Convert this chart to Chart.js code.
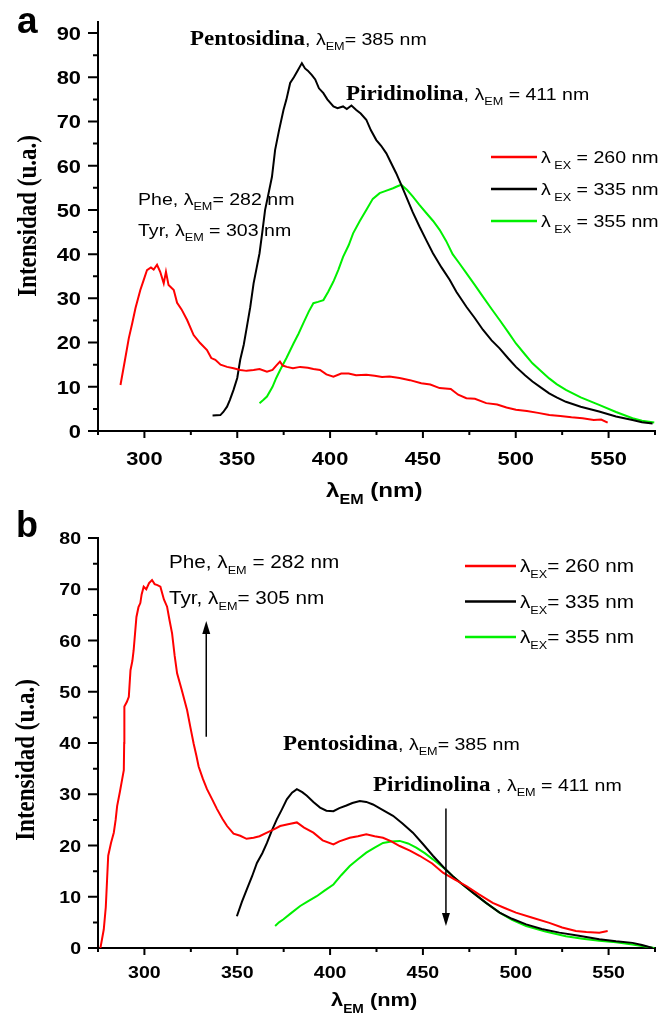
<!DOCTYPE html>
<html>
<head>
<meta charset="utf-8">
<script src="https://cdn.jsdelivr.net/npm/chart.js@4.4.1/dist/chart.umd.min.js"></script>
<style>
  body { margin: 0; background: #fff; }
  canvas { position: absolute; left: 0; }
  #chartA { top: 0; }
  #chartB { top: 510px; }
</style>
</head>
<body>
<canvas id="chartA" width="666" height="510"></canvas>
<canvas id="chartB" width="666" height="516"></canvas>
<script>
// ---- axes ----
const xMin = 275, xMax = 575;
const xTickLabels = [300, 350, 400, 450, 500, 550];
const xMinorTicks = [275, 325, 375, 425, 475, 525, 575];
const aYTicks = [0, 10, 20, 30, 40, 50, 60, 70, 80, 90];
const aYMinor = [5, 15, 25, 35, 45, 55, 65, 75, 85];
const bYTicks = [0, 10, 20, 30, 40, 50, 60, 70, 80];
const bYMinor = [5, 15, 25, 35, 45, 55, 65, 75];
const exLabels = ['260 nm', '335 nm', '355 nm'];

// ---- panel a ----
const aRedX = [287.1, 289.5, 291.6, 293.5, 295.2, 297.8, 299.5, 301.4, 303.5, 305, 306.8, 308.5, 310.4, 311.6, 313, 315.8, 317.6, 320, 323, 326.5, 330, 333.7, 336, 338.2, 341, 344.5, 348, 351.6, 355, 358.8, 362, 366, 369, 371, 373, 374.5, 376.7, 380, 383.9, 388, 391, 394.6, 398, 401.8, 406, 410, 414, 419.5, 424, 428, 432, 437.4, 443, 449.1, 454, 459, 465, 469, 473.4, 478, 484.1, 490, 495, 500.1, 506, 512, 518.1, 524, 530, 536, 542, 546, 549.5];
const aRedY = [10.4, 16, 21, 24.5, 27.8, 31.9, 34, 36.4, 37, 36.5, 37.6, 36, 33.4, 36, 33, 31.9, 29, 27.5, 25.1, 21.7, 19.9, 18.3, 16.5, 16.1, 15, 14.5, 14.2, 13.8, 13.6, 13.8, 14, 13.4, 13.8, 14.8, 15.7, 14.8, 14.5, 14.2, 14.5, 14.3, 14, 13.8, 12.8, 12.3, 13, 13, 12.6, 12.7, 12.5, 12.2, 12.3, 12.0, 11.5, 10.8, 10.5, 9.7, 9.5, 8.2, 7.4, 7.3, 6.3, 6, 5.3, 4.8, 4.5, 4.1, 3.6, 3.4, 3.1, 2.9, 2.5, 2.6, 1.9];

const aBlackX = [336.7, 340.9, 342.5, 344.5, 346, 348, 350, 351.6, 353.5, 355.2, 357, 358.8, 360.5, 362, 363.5, 365, 366.5, 368.7, 370.4, 372.5, 374.9, 376.5, 378.5, 380.5, 382.5, 384.8, 386.5, 388, 390.2, 392, 394, 396.4, 398.5, 401.8, 404, 407, 409, 411.5, 414.1, 416.5, 419.5, 422, 424.9, 427.5, 430.3, 433, 435.6, 438, 441, 444.5, 448.2, 452, 455.4, 460, 464.4, 468, 473.4, 478, 482.3, 487, 491.3, 496, 500.1, 505, 509, 514, 518, 522, 527, 535, 544.9, 554, 562.9, 568, 573.7];
const aBlackY = [3.5, 3.6, 4.3, 5.5, 7, 9.3, 12, 16.1, 19.5, 23.6, 28, 33.4, 37, 40.2, 45, 50, 53, 57.5, 63.6, 68, 72.6, 75, 78.7, 80, 81.5, 83.2, 82, 81.5, 80.5, 79.5, 77.5, 76.4, 75, 73.4, 73, 73.4, 72.8, 73.6, 72.6, 71.8, 70.4, 68, 65.8, 64.5, 62.8, 60.5, 58.3, 56, 53, 49.5, 46.2, 43, 40.2, 37, 34.2, 31.5, 28.1, 25.5, 22.9, 20.5, 18.7, 16.4, 14.5, 12.6, 11.2, 9.7, 8.5, 7.6, 6.6, 5.5, 4.4, 3.3, 2.5, 2, 1.7];

const aGreenX = [362, 364, 366, 369, 371, 373.1, 376.5, 380.3, 383, 385.6, 388.5, 391, 393.5, 396.4, 399, 401.8, 404.5, 407, 410, 412.4, 416, 419.5, 423, 426.7, 430, 433.9, 436, 438.3, 441.5, 444.6, 448, 451.8, 455.5, 459, 462.5, 466, 469.5, 473.4, 478, 482.3, 487, 491.3, 496, 500.1, 505, 509, 514, 518, 522, 527, 535, 544.9, 554, 562.9, 568, 574.6];
const aGreenY = [6.3, 7, 7.8, 10, 12, 13.8, 16.5, 19.8, 22, 24.4, 27, 28.9, 29.2, 29.6, 31.5, 33.8, 36.5, 39.4, 42, 44.7, 47.5, 50, 52.5, 53.8, 54.3, 54.9, 55.3, 55.7, 54.5, 53, 51.2, 49.3, 47.5, 45.5, 43, 40, 38, 35.7, 33, 30.4, 27.6, 25.1, 22.3, 19.8, 17.3, 15.3, 13.4, 11.9, 10.6, 9.3, 7.6, 5.9, 4.3, 2.9, 2.3, 1.9];

// ---- panel b ----
const bRedX = [276.3, 278.1, 279.2, 279.9, 280.5, 282, 283.5, 284.5, 285.3, 286.8, 288, 288.9, 289.1, 289.2, 290.5, 291.6, 292.5, 293.5, 294.2, 295.7, 296.8, 297.8, 298.5, 299.6, 301, 302.5, 304.1, 305.5, 307, 308.6, 310.5, 312.2, 313.5, 314.9, 316.3, 317.6, 320, 323, 324.8, 326.5, 328, 329.2, 331.5, 333.7, 336.5, 339.1, 342, 344.5, 348, 351.6, 355, 358.8, 362, 366, 370, 373.1, 378, 382.1, 386, 391, 396, 401.8, 405, 410.6, 415, 419.5, 424, 428.5, 433, 437.5, 443, 448.2, 455, 460.8, 467, 473.4, 480, 487.6, 494, 500.1, 509, 518.1, 525, 532.4, 538, 545, 549.5];
const bRedY = [0, 3.6, 8, 13.4, 18, 20.5, 22.5, 25, 27.7, 30.5, 32.9, 34.7, 40, 47.1, 48, 49, 54.2, 56, 58.1, 64.6, 66.5, 67.3, 69, 70.5, 70, 71.2, 71.8, 71, 70.8, 70.5, 68, 66.6, 64, 61.4, 57, 53.6, 50.5, 46.4, 43, 39.9, 37.5, 35.4, 33, 31, 29, 27.1, 25.2, 23.8, 22.3, 21.9, 21.3, 21.5, 21.8, 22.5, 23.2, 23.8, 24.2, 24.5, 23.5, 22.5, 21, 20.2, 20.8, 21.5, 21.8, 22.2, 21.8, 21.5, 20.8, 19.9, 19, 18, 16.5, 14.7, 13.4, 12.1, 10.5, 8.8, 7.8, 6.9, 5.9, 4.9, 4, 3.3, 3.1, 3.0, 3.3];

const bBlackX = [349.8, 352.5, 355.2, 358, 360.6, 363.5, 366, 368.5, 371.3, 374, 376.7, 379.5, 382.1, 385, 387.5, 391, 394.6, 398, 401.8, 405, 408.8, 412, 416, 419.5, 423.1, 428, 433.9, 439, 444.6, 450, 455.4, 461, 466.1, 471, 476.9, 484, 491.3, 498, 505.6, 514, 523.5, 534, 545, 554, 562.9, 568, 573.7];
const bBlackY = [6.2, 9, 11.5, 14, 16.6, 18.5, 20.5, 22.8, 25.1, 27, 29, 30.3, 31, 30.4, 29.7, 28.5, 27.4, 26.8, 26.7, 27.3, 27.8, 28.3, 28.7, 28.5, 28, 27, 25.8, 24.3, 22.5, 20.3, 18, 15.8, 14, 12.5, 10.8, 8.8, 6.9, 5.7, 4.6, 3.7, 3, 2.4, 1.7, 1.3, 1.0, 0.6, 0];

const bGreenX = [370.4, 372.5, 374.9, 379, 383.9, 388, 392.8, 397, 401.8, 406, 410.6, 415, 419.5, 424, 428.5, 433, 437.5, 442, 446.4, 451, 455.4, 461, 466.1, 471, 476.9, 484, 491.3, 498, 505.6, 516, 527, 536, 545, 554, 562.9, 568, 574.6];
const bGreenY = [4.3, 5, 5.6, 6.8, 8.2, 9.1, 10.1, 11.2, 12.4, 14.2, 16, 17.3, 18.6, 19.6, 20.5, 20.8, 20.9, 20.4, 19.6, 18.5, 17.3, 15.7, 14, 12.5, 10.8, 8.8, 6.9, 5.5, 4.3, 3.2, 2.3, 1.8, 1.4, 1.1, 0.7, 0.4, 0];

const colors = ['#ff0000', '#000000', '#00f000'];
const SX = 1.15; // source figure is stretched horizontally

function pts(xs, ys) {
  return xs.map((x, i) => ({ x: x, y: ys[i] }));
}
const sans = (s, b) => (b ? 'bold ' : '') + s + 'px "Liberation Sans", Arial, sans-serif';
const serif = s => 'bold ' + s + 'px "Liberation Serif", "Times New Roman", serif';

// draws a row of text pieces (for the subscripts), left aligned at baseline y
function richText(ctx, x, y, parts, align) {
  ctx.save();
  ctx.translate(x, y);
  ctx.scale(SX, 1);
  ctx.fillStyle = '#000';
  ctx.textAlign = 'left';
  ctx.textBaseline = 'alphabetic';
  let w = 0;
  for (const p of parts) { ctx.font = p.f; w += ctx.measureText(p.t).width; }
  let cx = align === 'center' ? -w / 2 : 0;
  for (const p of parts) {
    ctx.font = p.f;
    ctx.fillText(p.t, cx, p.dy || 0);
    cx += ctx.measureText(p.t).width;
  }
  ctx.restore();
}

function lamEM(size, sub, rest, lead) {
  const parts = [];
  if (lead) parts.push(...lead);
  parts.push({ t: 'λ', f: sans(size) });
  parts.push({ t: sub, f: sans(Math.round(size * 0.62)), dy: size * 0.32 });
  parts.push({ t: rest, f: sans(size) });
  return parts;
}

function arrow(ctx, xs, ys, xv, y0, y1) {
  const px = xs.getPixelForValue(xv);
  const p0 = ys.getPixelForValue(y0);
  const p1 = ys.getPixelForValue(y1);
  const dir = p1 < p0 ? -1 : 1;
  ctx.save();
  ctx.strokeStyle = '#000';
  ctx.fillStyle = '#000';
  ctx.lineWidth = 1.5;
  ctx.beginPath();
  ctx.moveTo(px, p0);
  ctx.lineTo(px, p1 - dir * 12);
  ctx.stroke();
  ctx.beginPath();
  ctx.moveTo(px, p1);
  ctx.lineTo(px - 4, p1 - dir * 13);
  ctx.lineTo(px + 4, p1 - dir * 13);
  ctx.closePath();
  ctx.fill();
  ctx.restore();
}

function makeChart(id, cfg) {
  const decor = {
    id: 'decor' + id,
    afterDraw(chart) {
      const ctx = chart.ctx;
      const xs = chart.scales.x, ys = chart.scales.y;
      const bottom = chart.chartArea.bottom, left = chart.chartArea.left;
      ctx.save();
      ctx.strokeStyle = '#000';
      ctx.lineWidth = 2;
      ctx.beginPath();
      for (const v of xTickLabels) { const p = xs.getPixelForValue(v); ctx.moveTo(p, bottom); ctx.lineTo(p, bottom + 7); }
      for (const v of xMinorTicks) { const p = xs.getPixelForValue(v); ctx.moveTo(p, bottom); ctx.lineTo(p, bottom + 4); }
      for (const v of cfg.yTicks) { const p = ys.getPixelForValue(v); ctx.moveTo(left, p); ctx.lineTo(left - 10, p); }
      for (const v of cfg.yMinor) { const p = ys.getPixelForValue(v); ctx.moveTo(left, p); ctx.lineTo(left - 5, p); }
      ctx.stroke();
      ctx.restore();

      for (const v of xTickLabels) {
        richText(ctx, xs.getPixelForValue(v), bottom + cfg.xLabelDy, [{ t: String(v), f: sans(cfg.tickSize, true) }], 'center');
      }
      for (const v of cfg.yTicks) {
        const s = String(v);
        ctx.save();
        ctx.font = sans(cfg.tickSize, true);
        const w = ctx.measureText(s).width * SX;
        ctx.restore();
        richText(ctx, left - 17 - w, ys.getPixelForValue(v) + cfg.tickSize * 0.36, [{ t: s, f: sans(cfg.tickSize, true) }]);
      }

      // axis titles
      const t = cfg.xTitle;
      richText(ctx, t.x, t.y, [
        { t: 'λ', f: sans(t.size, true) },
        { t: 'EM', f: sans(Math.round(t.size * 0.65), true), dy: t.size * 0.35 },
        { t: ' (nm)', f: sans(t.size, true) }
      ]);
      ctx.save();
      ctx.translate(cfg.yTitle.x, cfg.yTitle.y);
      ctx.scale(SX, 1);
      ctx.rotate(-Math.PI / 2);
      ctx.font = serif(cfg.yTitle.size);
      ctx.fillStyle = '#000';
      ctx.textAlign = 'center';
      ctx.textBaseline = 'middle';
      ctx.fillText('Intensidad (u.a.)', 0, 0);
      ctx.restore();

      // panel letter
      ctx.save();
      ctx.font = sans(cfg.letter.size, true);
      ctx.fillStyle = '#000';
      ctx.fillText(cfg.letter.t, cfg.letter.x, cfg.letter.y);
      ctx.restore();

      // legend
      const lg = cfg.legend;
      chart.data.datasets.forEach((ds, i) => {
        const y = lg.y0 + i * lg.dy;
        ctx.save();
        ctx.strokeStyle = ds.borderColor;
        ctx.lineWidth = 2.5;
        ctx.beginPath();
        ctx.moveTo(lg.x0, y);
        ctx.lineTo(lg.x1, y);
        ctx.stroke();
        ctx.restore();
        richText(ctx, lg.tx, y + lg.size * 0.36, lamEM(lg.size, lg.sub, lg.eq + exLabels[i]));
      });

      for (const n of cfg.notes) richText(ctx, n.x, n.y, n.parts);
      for (const a of cfg.arrows) arrow(ctx, xs, ys, a[0], a[1], a[2]);
    }
  };

  return new Chart(document.getElementById(id), {
    type: 'line',
    data: {
      datasets: cfg.series.map((s, i) => ({
        label: 'λEX = ' + exLabels[i],
        data: s,
        borderColor: colors[i],
        borderWidth: 2,
        pointRadius: 0,
        tension: 0,
        fill: false
      }))
    },
    options: {
      responsive: false,
      animation: false,
      layout: { padding: { left: 0, right: 11, top: cfg.padTop, bottom: 0 } },
      plugins: { legend: { display: false }, tooltip: { enabled: false } },
      scales: {
        x: {
          type: 'linear', min: xMin, max: xMax,
          ticks: { display: false, stepSize: 25 },
          grid: { display: false },
          border: { display: true, color: '#000', width: 2 },
          afterFit: s => { s.height = cfg.xHeight; }
        },
        y: {
          min: 0, max: cfg.yMax,
          ticks: { display: false, stepSize: 5 },
          grid: { display: false },
          border: { display: true, color: '#000', width: 2 },
          afterFit: s => { s.width = 98; }
        }
      }
    },
    plugins: [decor]
  });
}

makeChart('chartA', {
  series: [pts(aRedX, aRedY), pts(aBlackX, aBlackY), pts(aGreenX, aGreenY)],
  yMax: 92.5, yTicks: aYTicks, yMinor: aYMinor,
  padTop: 22, xHeight: 79, tickSize: 19, xLabelDy: 34,
  xTitle: { x: 326, y: 497, size: 21 },
  yTitle: { x: 29, y: 216, size: 23 },
  letter: { t: 'a', x: 17, y: 33, size: 37 },
  legend: { x0: 491, x1: 537, tx: 541, y0: 157, dy: 32, size: 17, sub: ' EX', eq: ' = ' },
  notes: [
    { x: 190, y: 45, parts: lamEM(17, 'EM', '= 385 nm', [{ t: 'Pentosidina', f: serif(20) }, { t: ', ', f: sans(17) }]) },
    { x: 346, y: 100, parts: lamEM(17, 'EM', ' = 411 nm', [{ t: 'Piridinolina', f: serif(20) }, { t: ', ', f: sans(17) }]) },
    { x: 138, y: 205, parts: lamEM(17, 'EM', '= 282 nm', [{ t: 'Phe, ', f: sans(17) }]) },
    { x: 138, y: 236, parts: lamEM(17, 'EM', ' = 303 nm', [{ t: 'Tyr, ', f: sans(17) }]) }
  ],
  arrows: []
});

makeChart('chartB', {
  series: [pts(bRedX, bRedY), pts(bBlackX, bBlackY), pts(bGreenX, bGreenY)],
  yMax: 80, yTicks: bYTicks, yMinor: bYMinor,
  padTop: 28, xHeight: 78, tickSize: 17, xLabelDy: 30,
  xTitle: { x: 331, y: 496, size: 19 },
  yTitle: { x: 27, y: 250, size: 23 },
  letter: { t: 'b', x: 16, y: 27, size: 36 },
  legend: { x0: 465, x1: 516, tx: 520, y0: 56, dy: 35.5, size: 18, sub: 'EX', eq: '= ' },
  notes: [
    { x: 169, y: 58, parts: lamEM(18, 'EM', ' = 282 nm', [{ t: 'Phe, ', f: sans(18) }]) },
    { x: 169, y: 94, parts: lamEM(18, 'EM', '= 305 nm', [{ t: 'Tyr, ', f: sans(18) }]) },
    { x: 283, y: 240, parts: lamEM(17, 'EM', '= 385 nm', [{ t: 'Pentosidina', f: serif(20) }, { t: ', ', f: sans(17) }]) },
    { x: 373, y: 281, parts: lamEM(17, 'EM', ' = 411 nm', [{ t: 'Piridinolina', f: serif(20) }, { t: ' , ', f: sans(17) }]) }
  ],
  arrows: [[333.3, 41.2, 63.8], [462.4, 27.2, 4.3]]
});
</script>
</body>
</html>
